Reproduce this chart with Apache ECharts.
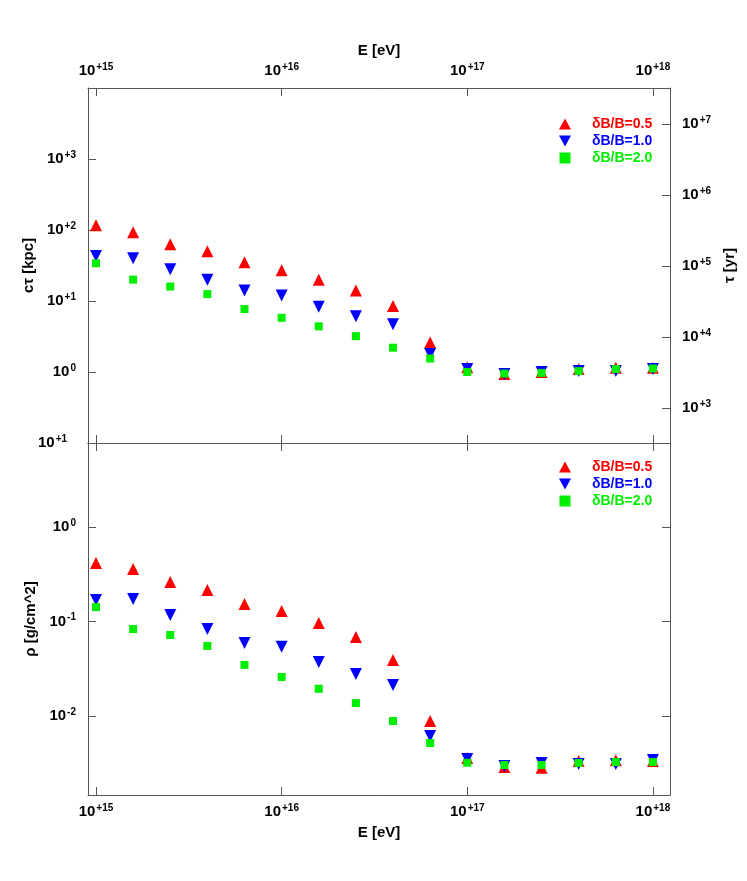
<!DOCTYPE html>
<html><head><meta charset="utf-8">
<script src="https://cdn.jsdelivr.net/npm/echarts@6/dist/echarts.min.js"></script>
<style>body{margin:0;background:#fff}#main{width:747px;height:881px}</style>
</head><body><div id="main"></div>
<script>
// energies, 0.2 decade steps
var energy = [1e15, 1.585e15, 2.512e15, 3.981e15, 6.310e15, 1e16, 1.585e16, 2.512e16, 3.981e16, 6.310e16,
  1e17, 1.585e17, 2.512e17, 3.981e17, 6.310e17, 1e18]
var names = ['δB/B=0.5', 'δB/B=1.0', 'δB/B=2.0']
var colors = ['#ff0000', '#0000ff', '#00ee00']
// c*tau [kpc]
var ctau05 = [117, 93, 63, 50, 35, 27, 20, 14, 8.5, 2.6, 1.17, 0.94, 1.0, 1.1, 1.15, 1.15]
var ctau10 = [43, 40, 28, 20, 14, 12, 8.3, 6.1, 4.7, 1.8, 1.1, 0.94, 1.0, 1.03, 1.03, 1.1]
var ctau20 = [34, 20, 16, 12.5, 7.7, 5.8, 4.4, 3.2, 2.2, 1.55, 1.0, 0.95, 0.97, 1.03, 1.1, 1.12]
// rho [g/cm^2]
var rho05 = [0.416, 0.36, 0.262, 0.216, 0.153, 0.129, 0.0963, 0.0686, 0.0392, 0.00885, 0.0036, 0.00288, 0.00284, 0.00334, 0.00341, 0.00334]
var rho10 = [0.169, 0.173, 0.117, 0.0833, 0.0593, 0.0539, 0.0373, 0.0278, 0.0213, 0.00614, 0.0035, 0.00296, 0.00318, 0.0031, 0.0031, 0.00342]
var rho20 = [0.142, 0.0833, 0.072, 0.0551, 0.0347, 0.0259, 0.0194, 0.0137, 0.00885, 0.00518, 0.0032, 0.00303, 0.00303, 0.00318, 0.00326, 0.00326]

var dom = document.getElementById('main')
var myChart = echarts.init(dom)

function sup(v) {
  var e = Math.round(Math.log10(v))
  return '{b|10}{s|' + (e > 0 ? '+' + e : e === 0 ? '0' : '-' + (-e)) + '}'
}
var rich = { b: { fontSize: 15, fontWeight: 'bold', color: '#000', fontFamily: 'Liberation Sans' },
  s: { fontSize: 10, fontWeight: 'bold', color: '#000', verticalAlign: 'top', padding: [0, 0, 8, 1], fontFamily: 'Liberation Sans' } }
var line = { lineStyle: { color: '#555', width: 1 } }
var tick = { inside: true, length: 8, lineStyle: { color: '#555' } }
var nameStyle = { fontSize: 15, fontWeight: 'bold', color: '#000', fontFamily: 'Liberation Sans' }
var icons = ['path://M5,0L10,9L0,9Z', 'path://M0,0L10,0L5,9Z', 'path://M2,2L8,2L8,8L2,8Z']

function xAx(grid, pos, show) {
  return { type: 'log', logBase: 10, gridIndex: grid, position: pos, min: 10 ** 14.957, max: 10 ** 18.092,
    axisLine: line, axisTick: tick, splitLine: { show: false },
    axisLabel: { show: show, formatter: sup, rich: rich, showMinLabel: false, showMaxLabel: false, margin: 8 },
    name: show ? 'E [eV]' : '', nameLocation: 'middle', nameGap: 30, nameTextStyle: nameStyle }
}
function yAx(grid, pos, min, max, show, name) {
  return { type: 'log', logBase: 10, gridIndex: grid, position: pos, min: min, max: max,
    axisLine: line, axisTick: tick, splitLine: { show: false },
    axisLabel: { show: show, formatter: sup, rich: rich, showMinLabel: false, showMaxLabel: false, margin: 12 },
    name: name, nameLocation: 'middle', nameGap: 50, nameTextStyle: nameStyle }
}
function ser(i, data, xi, yi) {
  var sym = ['triangle', 'triangle', 'rect'][i]
  return { name: names[i], type: 'scatter', xAxisIndex: xi, yAxisIndex: yi, symbol: sym,
    symbolSize: i === 2 ? 8 : 12, symbolRotate: i === 1 ? 180 : 0, itemStyle: { color: colors[i], opacity: 1 },
    data: energy.map(function (e, k) { return [e, data[k]] }) }
}
function leg(top) {
  return { orient: 'vertical', left: 554, top: top, itemGap: 3, itemWidth: 12, itemHeight: 11, selectedMode: false,
    data: names.map(function (n, i) { return { name: n, icon: icons[i], textStyle: { color: colors[i] } } }),
    textStyle: { fontSize: 14, fontWeight: 'bold', fontFamily: 'Liberation Sans', padding: [0, 0, 0, 16] } }
}

option = {
  animation: false,
  grid: [
    { left: 88, right: 77, top: 88, height: 355 },
    { left: 88, right: 77, top: 443, height: 352 }
  ],
  xAxis: [xAx(0, 'top', true), xAx(0, 'bottom', false), xAx(1, 'bottom', true), xAx(1, 'top', false)],
  yAxis: [
    yAx(0, 'left', 0.1, 1e4, true, 'cτ [kpc]'),
    yAx(0, 'right', 10 ** 2.507, 10 ** 7.507, true, 'τ [yr]'),
    yAx(1, 'left', 10 ** -2.836, 10 ** 0.889, true, 'ρ [g/cm^2]'),
    yAx(1, 'right', 10 ** -2.836, 10 ** 0.889, false, '')
  ],
  legend: [leg(112), leg(455)],
  graphic: [{ type: 'text', left: 38, top: 434, style: { text: '{b|10}{s|+1}', rich: rich } }],
  series: [
    ser(0, ctau05, 0, 0), ser(1, ctau10, 0, 0), ser(2, ctau20, 0, 0),
    ser(0, rho05, 2, 2), ser(1, rho10, 2, 2), ser(2, rho20, 2, 2)
  ]
}
myChart.setOption(option, true)
</script></body></html>
